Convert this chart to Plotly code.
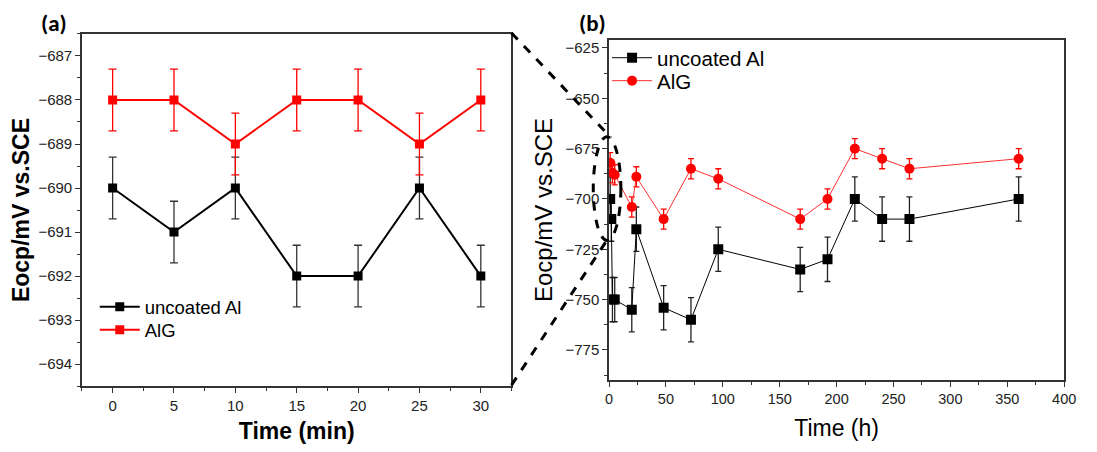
import plotly.graph_objects as go

# Panel (a): first 30 minutes
t_min = [0, 5, 10, 15, 20, 25, 30]
a_uncoated = [-690, -691, -690, -692, -692, -690, -692]
a_alg = [-688, -688, -689, -688, -688, -689, -688]
a_err = [0.7] * 7

# Panel (b): up to 360 h
t_h_unc = [1, 2, 3, 5, 20, 24, 48, 72, 96, 168, 192, 216, 240, 264, 360]
b_uncoated = [-700, -710, -750, -750, -755, -715, -754, -760, -725, -735, -730, -700, -710, -710, -700]
b_unc_err = [11] * len(b_uncoated)
t_h_alg = [1, 3, 5, 20, 24, 48, 72, 96, 168, 192, 216, 240, 264, 360]
b_alg = [-682, -687, -688, -704, -689, -710, -685, -690, -710, -700, -675, -680, -685, -680]
b_alg_err = [5] * len(b_alg)

OFF = 8  # page body margin
W, H = 1097 - 2 * OFF, 452 - 2 * OFF
def px(x):
    return (x - OFF) / W
def py(y):
    return 1 - (y - OFF) / H

FONT = "Liberation Sans, Arial, sans-serif"
fig = go.Figure()

fig.add_trace(go.Scatter(
    x=t_min, y=a_uncoated, mode="lines+markers", name="uncoated Al",
    line=dict(color="black", width=2), marker=dict(symbol="square", size=9, color="black"),
    error_y=dict(type="data", array=a_err, color="#333", thickness=1.3, width=4),
    xaxis="x", yaxis="y", legend="legend"))
fig.add_trace(go.Scatter(
    x=t_min, y=a_alg, mode="lines+markers", name="AlG",
    line=dict(color="red", width=2), marker=dict(symbol="square", size=9, color="red"),
    error_y=dict(type="data", array=a_err, color="red", thickness=1.3, width=4),
    xaxis="x", yaxis="y", legend="legend2"))

fig.add_trace(go.Scatter(
    x=t_h_unc, y=b_uncoated, mode="lines+markers", name="uncoated Al",
    line=dict(color="black", width=1), marker=dict(symbol="square", size=10, color="black"),
    error_y=dict(type="data", array=b_unc_err, color="#222", thickness=1.3, width=3),
    xaxis="x2", yaxis="y2", legend="legend3"))
fig.add_trace(go.Scatter(
    x=t_h_alg, y=b_alg, mode="lines+markers", name="AlG",
    line=dict(color="#ff3030", width=1), marker=dict(symbol="circle", size=10, color="red"),
    error_y=dict(type="data", array=b_alg_err, color="red", thickness=1.3, width=3),
    xaxis="x2", yaxis="y2", legend="legend4"))

axis_common = dict(showline=True, linecolor="#333", linewidth=1.5, ticks="outside",
                   ticklen=5, tickcolor="#333", showgrid=False, zeroline=False)
tf15 = dict(family=FONT, size=15, color="#222")

def leg(x, y, size):
    return dict(x=px(x), y=py(y), xanchor="left", yanchor="middle", bgcolor="rgba(0,0,0,0)",
                font=dict(family=FONT, size=size, color="black"), itemwidth=40)

fig.update_layout(
    width=W, height=H, margin=dict(l=0, r=0, t=0, b=0),
    plot_bgcolor="white", paper_bgcolor="white", showlegend=True,
    xaxis=dict(domain=[px(79), px(515)], anchor="y", range=[-2.5, 32.5],
               tickvals=[0, 5, 10, 15, 20, 25, 30], mirror=True, tickfont=tf15,
               minor=dict(ticks="outside", dtick=2.5, tick0=0, ticklen=3, tickcolor="#333"),
               title=dict(text="<b>Time (min)</b>", font=dict(family=FONT, size=23, color="black"), standoff=12),
               **axis_common),
    yaxis=dict(domain=[py(386), py(33)], anchor="x", range=[-694.5, -686.5],
               tickvals=[-694, -693, -692, -691, -690, -689, -688, -687], mirror=True, tickfont=tf15,
               minor=dict(ticks="outside", dtick=0.5, tick0=0, ticklen=3, tickcolor="#333"),
               title=dict(text="<b>Eocp/mV vs.SCE</b>", font=dict(family=FONT, size=23, color="black"), standoff=4),
               **axis_common),
    xaxis2=dict(domain=[px(614), px(1076)], anchor="y2", range=[0, 400],
                tickvals=[0, 50, 100, 150, 200, 250, 300, 350, 400], mirror=True,
                tickfont=dict(family=FONT, size=14.5, color="#222"),
                minor=dict(ticks="outside", dtick=25, tick0=0, ticklen=3, tickcolor="#333"),
                title=dict(text="Time (h)", font=dict(family=FONT, size=23, color="black"), standoff=14),
                **axis_common),
    yaxis2=dict(domain=[py(380), py(39)], anchor="x2", range=[-790, -621],
                tickvals=[-775, -750, -725, -700, -675, -650, -625], mirror=True, tickfont=tf15,
                minor=dict(ticks="outside", dtick=12.5, tick0=0, ticklen=3, tickcolor="#333"),
                title=dict(text="Eocp/mV vs.SCE", font=dict(family=FONT, size=24, color="black"), standoff=6),
                **axis_common),
    legend=leg(92, 307, 18.5),
    legend2=leg(92, 330, 18.5),
    legend3=leg(612, 57, 20.5),
    legend4=leg(612, 80, 20.5),
)

fig.add_annotation(x=px(51), y=py(22), xref="paper", yref="paper", text="<b>(a)</b>",
                   xanchor="center", yanchor="middle", showarrow=False,
                   font=dict(family="Carlito, Calibri, sans-serif", size=23, color="black"))
fig.add_annotation(x=px(597), y=py(22), xref="paper", yref="paper", text="<b>(b)</b>",
                   xanchor="center", yanchor="middle", showarrow=False,
                   font=dict(family="Carlito, Calibri, sans-serif", size=23, color="black"))

dash = dict(color="black", width=3, dash="dash")
fig.add_shape(type="line", xref="paper", yref="paper", x0=px(515), y0=py(32), x1=px(616), y1=py(137), line=dash)
fig.add_shape(type="line", xref="paper", yref="paper", x0=px(515), y0=py(385), x1=px(613), y1=py(238), line=dash)
fig.add_shape(type="circle", xref="paper", yref="paper", x0=px(598), y0=py(240), x1=px(626), y1=py(136), line=dash)

fig.write_html("out.html")
